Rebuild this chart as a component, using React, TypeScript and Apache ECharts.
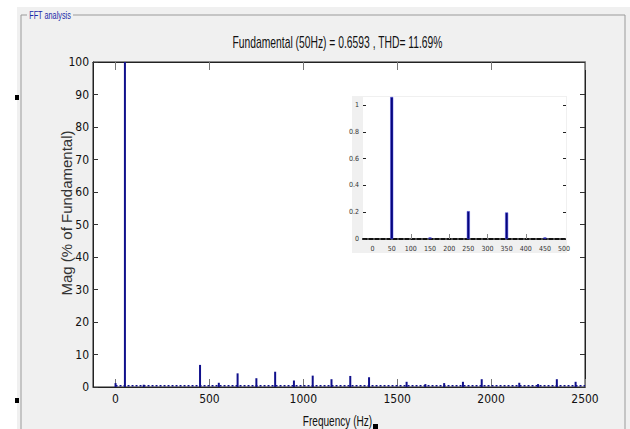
import React, { useEffect, useRef } from "react";
import * as echarts from "echarts";

// Main spectrum (% of fundamental)
const freqs = [0, 50, 150, 450, 550, 650, 750, 850, 950, 1050, 1150, 1250, 1350, 1550, 1650, 1750, 1850, 1950, 2150, 2250, 2350, 2450];
const mags = [1.2, 100, 0.7, 6.8, 1.3, 4.2, 2.7, 4.7, 2.0, 3.5, 2.4, 3.4, 3.0, 1.6, 0.9, 1.2, 1.6, 2.4, 1.3, 0.9, 2.4, 1.6];
const noiseFloor = [[0, 0.4], [2500, 0.4]];

// Inset spectrum
const insetFreqs = [50, 150, 250, 350, 450];
const insetMags = [1.06, 0.012, 0.208, 0.198, 0.012];

// Tick labels
const xTicks = [0, 500, 1000, 1500, 2000, 2500];
const insetXTicks = [0, 50, 100, 150, 200, 250, 300, 350, 400, 450, 500];
const insetXMinor = [100, 200, 300, 400];
const insetYTicks = [0, 0.2, 0.4, 0.6, 0.8, 1];

const titleText = "Fundamental (50Hz) = 0.6593 , THD= 11.69%";
const yName = "Mag (% of Fundamental)";
const xName = "Frequency (Hz)";
const panelName = "FFT analysis";

const NARROW = "'Liberation Sans Narrow','DejaVu Sans Condensed','Arial Narrow','Liberation Sans',sans-serif";
const SANS = "'Liberation Sans',Arial,sans-serif";
const plain = (v: number) => String(v);

export default function App() {
  const ref = useRef<HTMLDivElement>(null);
  useEffect(() => {
    if (!ref.current) return;
    const chart = echarts.init(ref.current, undefined, { renderer: "svg" });
    const navy = "#10108c";
    const option: any = {
      animation: false,
      backgroundColor: "#ffffff",
      graphic: [
        { type: "rect", z: -10, shape: { x: 17, y: 7, width: 613, height: 422 }, style: { fill: "#f0f0f0" } },
        { type: "line", z: -9, shape: { x1: 21, y1: 15, x2: 27, y2: 15 }, style: { stroke: "#9a9a9a", lineWidth: 1 } },
        { type: "line", z: -9, shape: { x1: 73, y1: 15, x2: 625, y2: 15 }, style: { stroke: "#9a9a9a", lineWidth: 1 } },
        { type: "line", z: -9, shape: { x1: 21, y1: 15, x2: 21, y2: 429 }, style: { stroke: "#9a9a9a", lineWidth: 1 } },
        { type: "line", z: -9, shape: { x1: 625, y1: 15, x2: 625, y2: 429 }, style: { stroke: "#9a9a9a", lineWidth: 1 } },
        { type: "rect", z: -8, shape: { x: 15, y: 95, width: 4, height: 5 }, style: { fill: "#000" } },
        { type: "rect", z: -8, shape: { x: 15, y: 398, width: 4, height: 5 }, style: { fill: "#000" } },
        { type: "rect", z: -8, shape: { x: 373, y: 424, width: 5, height: 5 }, style: { fill: "#000" } },
        {
          type: "text", x: 50, y: 16, scaleX: 0.73, z: -7,
          style: { text: panelName, fontSize: 10, fontFamily: SANS, fill: "#1a2aa8", align: "center", verticalAlign: "middle" },
        },
        {
          type: "text", x: 337.5, y: 43, scaleX: 0.645, z: 5,
          style: { text: titleText, fontSize: 16, fontFamily: SANS, fill: "#111", align: "center", verticalAlign: "middle" },
        },
        {
          type: "text", x: 66.5, y: 213, rotation: Math.PI / 2, z: 5,
          style: { text: yName, fontSize: 15, fontFamily: SANS, fill: "#333", align: "center", verticalAlign: "middle" },
        },
        {
          type: "text", x: 337.5, y: 421, scaleX: 0.72, z: 5,
          style: { text: xName, fontSize: 14, fontFamily: SANS, fill: "#111", align: "center", verticalAlign: "middle" },
        },
        // inset panel background
        { type: "rect", z: 20, shape: { x: 352, y: 96, width: 215, height: 157 }, style: { fill: "#f0f0f0" } },
      ],
      grid: [
        { left: 93, top: 62, width: 492, height: 325, show: true, backgroundColor: "#ffffff", borderColor: "#222", borderWidth: 1, z: 0 },
        { left: 363, top: 97, width: 203, height: 142, show: true, backgroundColor: "#ffffff", borderWidth: 0, z: 21 },
      ],
      xAxis: [
        {
          type: "value", gridIndex: 0, position: "bottom", min: -120, max: 2500,
          axisLine: { show: true, onZero: false, lineStyle: { color: "#222", width: 1 } },
          axisTick: { show: true, inside: true, length: 8, customValues: xTicks, lineStyle: { color: "#777" } },
          axisLabel: { customValues: xTicks, formatter: plain, fontSize: 12, color: "#111", margin: 6, fontFamily: NARROW },
          splitLine: { show: false },
        },
        {
          type: "value", gridIndex: 0, position: "top", min: -120, max: 2500,
          axisLine: { show: true, onZero: false, lineStyle: { color: "#222", width: 1 } },
          axisTick: { show: true, inside: true, length: 8, customValues: xTicks, lineStyle: { color: "#777" } },
          axisLabel: { show: false },
          splitLine: { show: false },
        },
        {
          type: "value", gridIndex: 1, position: "bottom", min: -25, max: 505, z: 22,
          axisLine: { show: true, onZero: false, lineStyle: { color: "#111", width: 2, type: [4, 2] } },
          axisTick: { show: true, inside: true, length: 5, customValues: insetXMinor, lineStyle: { color: "#888" } },
          axisLabel: { customValues: insetXTicks, formatter: plain, fontSize: 7, color: "#333", margin: 6, fontFamily: NARROW },
          splitLine: { show: false },
        },
      ],
      yAxis: [
        {
          type: "value", gridIndex: 0, position: "left", min: 0, max: 100, interval: 10,
          axisLine: { show: true, onZero: false, lineStyle: { color: "#222", width: 1 } },
          axisTick: { show: true, inside: true, length: 5, lineStyle: { color: "#333" } },
          axisLabel: { fontSize: 12, color: "#111", margin: 4, fontFamily: NARROW },
          splitLine: { show: false },
        },
        {
          type: "value", gridIndex: 0, position: "right", min: 0, max: 100, interval: 10,
          axisLine: { show: true, onZero: false, lineStyle: { color: "#222", width: 1 } },
          axisTick: { show: true, inside: true, length: 5, lineStyle: { color: "#333" } },
          axisLabel: { show: false },
          splitLine: { show: false },
        },
        {
          type: "value", gridIndex: 1, position: "left", min: 0, max: 1.06, z: 22,
          axisLine: { show: false, onZero: false },
          axisTick: { show: true, inside: true, length: 3, customValues: insetYTicks, lineStyle: { color: "#222" } },
          axisLabel: { customValues: insetYTicks, formatter: plain, fontSize: 7, color: "#333", margin: 4, fontFamily: NARROW },
          splitLine: { show: false },
        },
        {
          type: "value", gridIndex: 1, position: "right", min: 0, max: 1.06, z: 22,
          axisLine: { show: false, onZero: false },
          axisTick: { show: true, inside: true, length: 3, customValues: insetYTicks, lineStyle: { color: "#222" } },
          axisLabel: { show: false },
          splitLine: { show: false },
        },
      ],
      series: [
        {
          type: "line", xAxisIndex: 0, yAxisIndex: 0, data: noiseFloor, symbol: "none", silent: true,
          lineStyle: { color: navy, width: 1.5, type: [2, 2] }, z: 2,
        },
        {
          type: "bar", xAxisIndex: 0, yAxisIndex: 0, barWidth: 2,
          data: freqs.map((f, i) => [f, mags[i]]),
          itemStyle: { color: navy }, z: 3,
        },
        {
          type: "bar", xAxisIndex: 2, yAxisIndex: 2, barWidth: 3,
          data: insetFreqs.map((f, i) => [f, insetMags[i]]),
          itemStyle: { color: "#06067a", borderColor: "#4a4ae0", borderWidth: 0.5 }, z: 25,
        },
      ],
    };
    chart.setOption(option);
    return () => chart.dispose();
  }, []);
  return <div ref={ref} style={{ position: "fixed", left: 0, top: 0, width: 630, height: 429 }} />;
}
